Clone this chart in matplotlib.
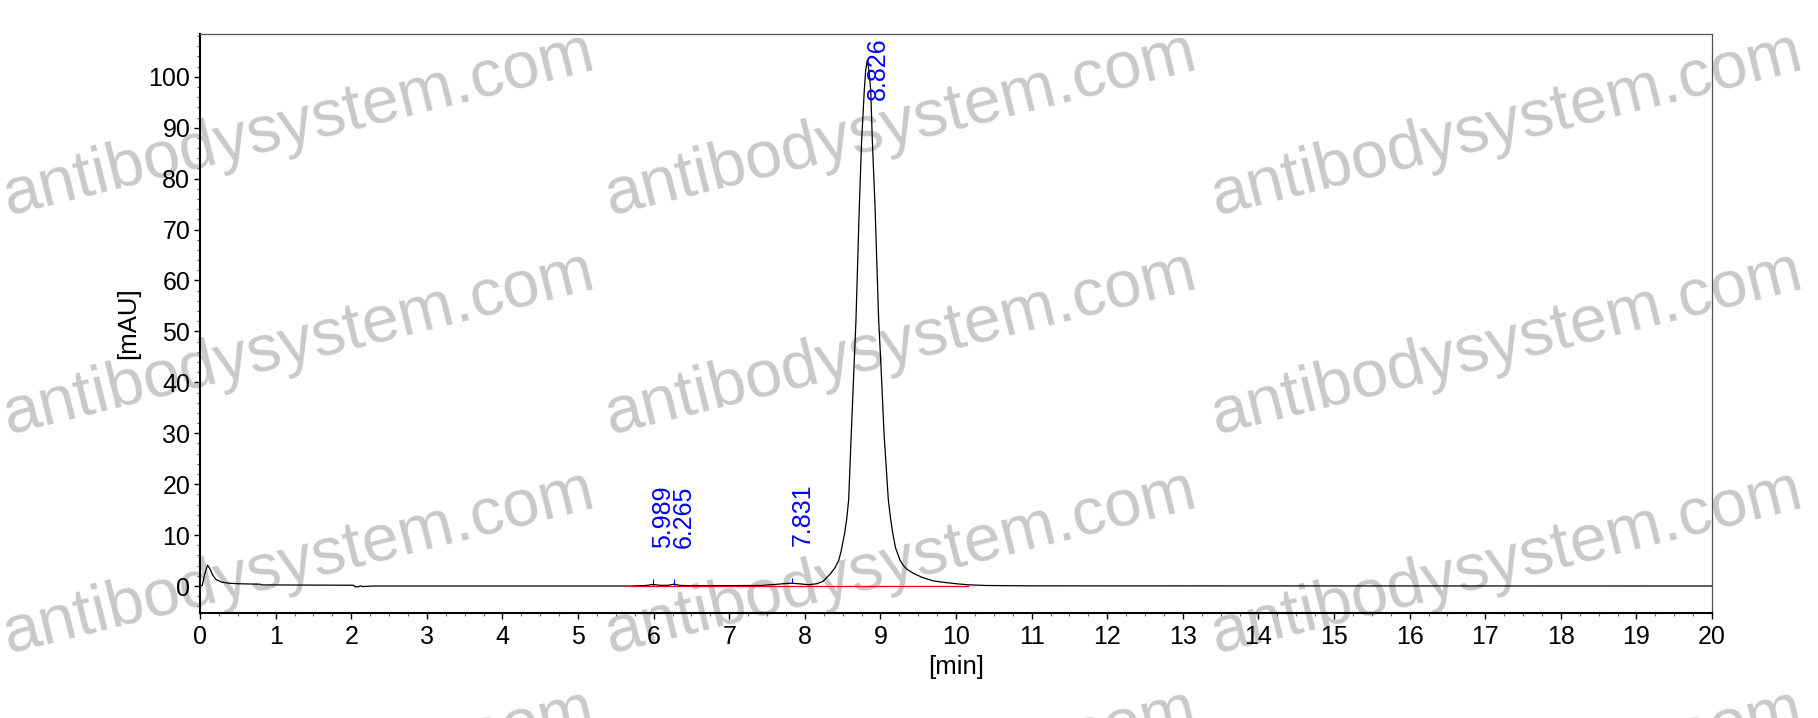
import matplotlib
matplotlib.use("Agg")
import matplotlib.pyplot as plt
from matplotlib.ticker import MultipleLocator

plt.rcParams['font.family'] = ['Liberation Sans', 'DejaVu Sans']

# chromatogram trace (time in min, signal in mAU)
time_min = [0.00, 0.03, 0.06, 0.10, 0.13, 0.17, 0.21, 0.28, 0.38, 0.50,
            0.80, 0.81, 1.50, 2.03, 2.05, 2.10, 2.12, 2.15, 2.30, 5.70,
            5.90, 5.989, 6.10, 6.20, 6.265, 6.35, 6.50, 7.40, 7.60, 7.75,
            7.831, 7.95, 8.05, 8.16, 8.24, 8.333, 8.40, 8.448, 8.48, 8.527,
            8.555, 8.58, 8.615, 8.651, 8.677, 8.721, 8.752, 8.787, 8.805, 8.826,
            8.848, 8.872, 8.893, 8.929, 8.977, 9.008, 9.048, 9.105, 9.135, 9.163,
            9.20, 9.259, 9.30, 9.35, 9.435, 9.55, 9.70, 9.85, 10.00, 10.15,
            10.40, 11.00, 20.00]
signal_mau = [0.0, 0.1, 2.2, 4.1, 3.4, 2.1, 1.3, 0.8, 0.55, 0.45,
              0.35, 0.22, 0.18, 0.15, -0.15, -0.15, 0.05, -0.1, 0.0, 0.0,
              0.1, 0.3, 0.12, 0.15, 0.35, 0.12, 0.05, 0.1, 0.3, 0.5,
              0.55, 0.4, 0.25, 0.45, 0.9, 2.3, 3.6, 5.0, 6.8, 10.4,
              13.2, 16.9, 30.0, 43.1, 52.3, 74.5, 87.6, 97.4, 101.3, 103.2,
              101.3, 97.4, 87.6, 74.5, 52.3, 43.1, 30.0, 16.9, 13.2, 10.4,
              7.5, 5.1, 4.1, 3.3, 2.5, 1.7, 1.0, 0.7, 0.45, 0.25,
              0.1, 0.03, 0.0]

# integration baseline (red)
baseline_t = [5.70, 10.16]
baseline_v = [0.05, 0.05]

# integrated peaks
peak_rt = [5.989, 6.265, 7.831, 8.826]
peak_labels = ["5.989", "6.265", "7.831", "8.826"]
label_y = [7.4, 7.4, 7.8, 95.5]
tick_low = [0.0, 0.0, 0.5]
tick_high = [1.3, 1.4, 1.6]

xticks = list(range(0, 21))
yticks = list(range(0, 101, 10))

fig = plt.figure(figsize=(18.18, 7.18), dpi=100)
ax = fig.add_axes([200 / 1818, 1 - 613 / 718, 1512 / 1818, 579 / 718])
ax.set_facecolor('none')

# watermark behind everything
wm_x = [8, 610, 1216]
wm_y = [215, 434, 653, 872]
for wx in wm_x:
    for wy in wm_y:
        fig.text(wx / 1818, 1 - wy / 718, "antibodysystem.com", fontsize=48,
                 color='#c9c9c9', rotation=14, rotation_mode='anchor',
                 ha='left', va='baseline', zorder=-5)

ax.plot(time_min, signal_mau, color='black', lw=0.9, zorder=3)
ax.plot(baseline_t, baseline_v, color='red', lw=0.9, zorder=4)
ax.vlines(peak_rt[:3], tick_low, tick_high, color='blue', lw=0.8, zorder=5)

for rt, lab, ly in zip(peak_rt, peak_labels, label_y):
    ax.text(rt - 0.02, ly, lab, rotation=90, color='blue', fontsize=18,
            ha='left', va='bottom', zorder=6)

ax.set_xlim(0, 20)
ax.set_ylim(-5.3, 108.4)
ax.set_xticks(xticks)
ax.set_yticks(yticks)
ax.xaxis.set_minor_locator(MultipleLocator(0.25))
ax.yaxis.set_minor_locator(MultipleLocator(2))
ax.tick_params(which='major', direction='out', length=4, width=1, labelsize=18, pad=3)
ax.tick_params(which='minor', direction='out', length=2.5, width=0.8, color='#666666')
ax.tick_params(axis='x', which='major', pad=5)

for side in ['left', 'bottom']:
    ax.spines[side].set_linewidth(1.5)
    ax.spines[side].set_color('black')
for side in ['top', 'right']:
    ax.spines[side].set_linewidth(0.9)
    ax.spines[side].set_color('#505050')

ax.set_xlabel("[min]", fontsize=18.5, labelpad=4)
ax.set_ylabel("[mAU]", fontsize=18.5, labelpad=6)

fig.savefig("out.png", dpi=100)
